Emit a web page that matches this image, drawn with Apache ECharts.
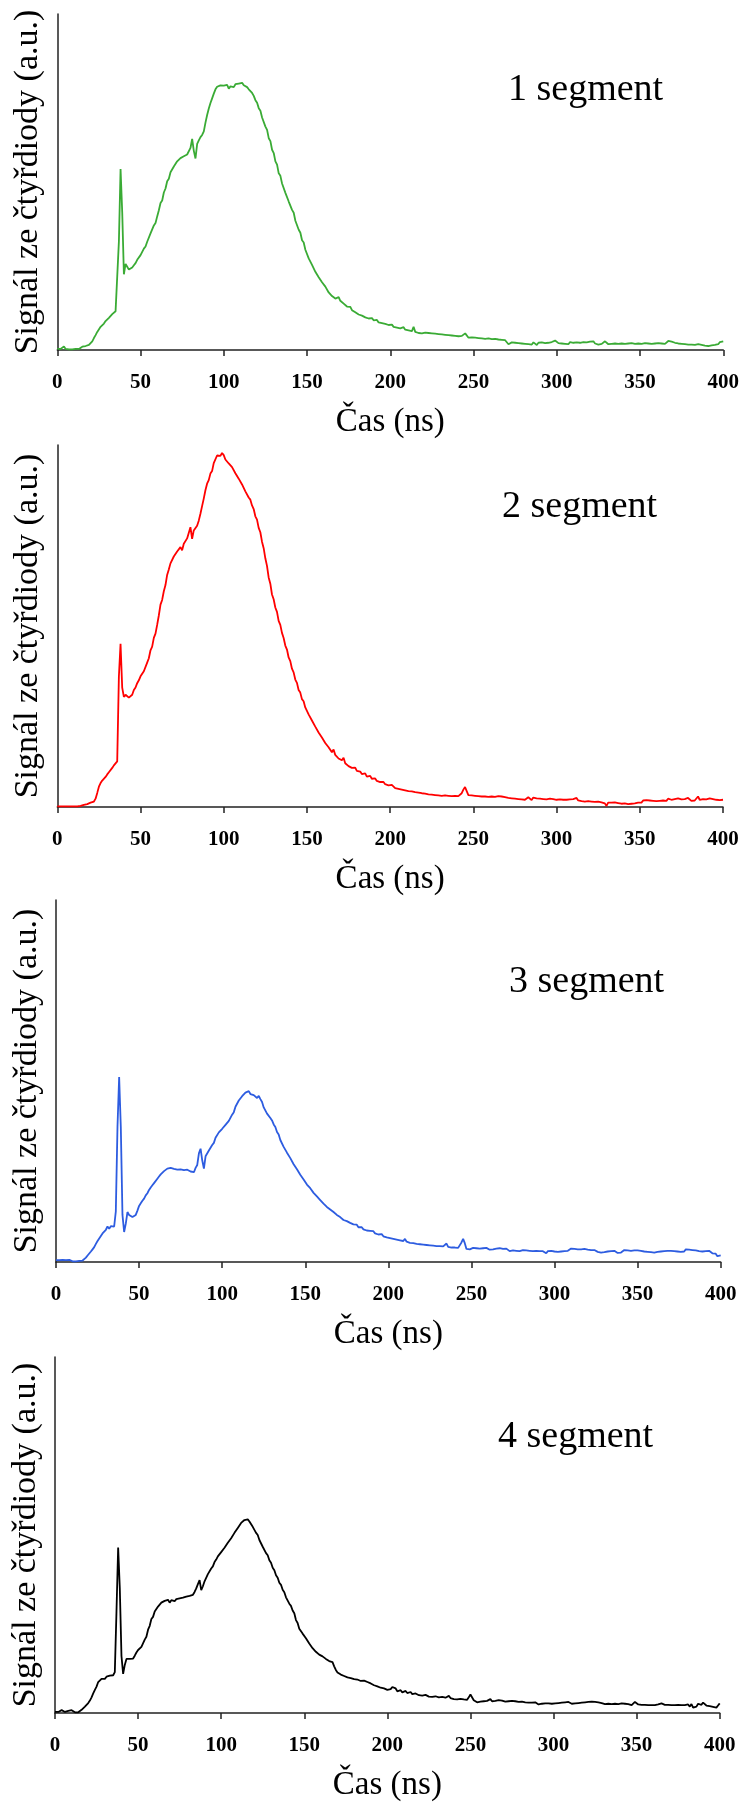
<!DOCTYPE html>
<html>
<head>
<meta charset="utf-8">
<script src="https://cdn.jsdelivr.net/npm/echarts@6/dist/echarts.min.js"></script>
<style>
  html, body { margin: 0; padding: 0; background: #ffffff; }
  #chart { width: 742px; height: 1803px; }
</style>
</head>
<body>
<div id="chart"></div>
<script>
// Photodiode signal of four segments, sampled every 1 ns from 0 to 400 ns (a.u.)
const timeStartNs = 0;
const timeStepNs = 1;

const segment1 = [
  0.3,0.2,0.3,0.2,1.0,0.3,0.2,0.2,0.3,0.2,
  0.2,0.3,0.2,0.3,0.3,0.9,0.4,1.1,0.7,1.4,
  1.9,2.4,3.3,4.1,5.0,5.5,6.4,6.9,7.3,8.0,
  8.3,8.9,9.4,9.9,10.4,10.7,11.2,30.0,50.0,38.0,
  20.9,23.8,23.0,22.2,21.9,22.8,23.4,24.0,24.9,25.4,
  26.2,26.7,28.0,28.6,29.9,30.4,32.2,32.5,34.4,35.1,
  36.9,38.6,40.6,41.3,43.5,44.6,46.6,47.3,49.1,49.6,
  50.7,51.2,52.1,52.4,53.0,52.6,53.5,53.1,54.0,54.3,
  55.8,58.3,55.0,52.9,56.9,57.9,58.8,59.4,60.4,62.8,
  64.9,66.7,68.2,69.5,70.8,72.0,72.7,72.4,73.1,72.7,
  73.0,72.5,73.2,72.2,72.8,73.1,72.6,73.4,73.0,73.6,
  73.2,73.8,73.1,72.9,72.6,72.0,71.5,71.0,70.2,69.0,
  68.3,66.8,66.1,64.2,63.7,61.7,60.8,58.5,57.7,55.3,
  54.4,52.1,51.2,48.8,48.1,46.0,45.6,43.4,42.9,41.0,
  40.6,38.7,37.9,35.7,35.2,33.2,32.4,30.3,29.7,27.7,
  27.2,25.3,24.9,23.5,23.0,21.6,21.5,20.1,20.1,18.7,
  18.7,17.5,17.2,15.9,16.1,14.9,15.2,14.2,14.3,14.6,
  13.6,13.2,12.8,12.5,12.0,11.6,11.9,11.0,10.7,10.4,
  10.3,9.8,10.1,9.5,9.3,9.0,9.3,8.7,8.4,8.8,
  8.2,7.9,8.3,7.6,7.9,7.4,7.6,7.2,7.4,6.9,
  6.7,7.0,6.4,6.6,6.2,6.5,6.0,5.9,6.3,5.6,
  5.9,5.4,5.7,5.2,6.4,5.0,5.1,4.7,5.0,4.6,
  4.6,4.8,4.4,4.7,4.3,4.6,4.2,4.5,4.1,4.4,
  4.0,4.3,3.9,4.2,3.9,4.1,3.7,4.0,3.6,3.9,
  3.6,3.8,3.5,3.9,4.3,4.6,4.1,3.4,3.2,3.5,
  3.1,3.4,3.0,3.3,2.9,3.2,2.8,3.1,2.7,3.2,
  2.8,3.0,2.6,3.1,2.7,2.9,2.5,2.8,2.4,2.7,
  2.3,1.6,1.2,2.1,2.4,2.0,2.3,1.9,2.2,1.8,
  2.1,1.7,2.2,1.6,2.0,1.5,2.1,1.8,1.4,2.0,
  1.7,2.1,1.6,1.9,1.5,2.0,1.7,2.2,1.8,2.6,
  2.3,1.9,2.3,1.8,2.2,1.7,2.1,1.6,2.2,2.6,
  2.0,1.7,2.1,1.6,2.0,1.8,2.2,1.7,2.1,1.6,
  2.3,1.9,2.4,1.8,2.2,1.5,2.0,1.7,2.1,2.4,
  1.9,1.6,2.0,1.7,2.1,1.8,2.0,1.7,2.0,1.8,
  2.1,1.7,2.0,1.8,2.2,1.9,2.0,1.7,2.1,1.8,
  2.0,1.7,2.1,1.9,2.2,1.8,2.1,1.7,2.0,1.8,
  2.1,1.9,2.2,1.8,2.0,1.7,2.1,2.5,2.8,2.3,
  2.6,2.0,2.2,1.8,2.1,1.7,2.0,1.6,1.9,1.5,
  1.8,1.5,1.9,1.4,1.8,1.6,1.9,1.4,1.7,1.2,
  1.5,1.1,1.6,1.3,1.7,1.4,1.9,1.6,2.2,2.5,
  2.4
];

const segment2 = [
  0.2,0.2,0.2,0.2,0.2,0.2,0.2,0.2,0.2,0.2,
  0.2,0.2,0.2,0.2,0.3,0.4,0.6,0.9,0.8,1.0,
  1.2,1.1,1.5,2.3,3.9,5.6,6.6,7.3,7.8,8.3,
  9.0,9.6,10.1,10.8,11.5,11.2,12.6,36.0,45.1,33.0,
  30.4,31.0,30.6,30.2,29.7,31.0,32.3,33.0,34.2,35.0,
  36.1,36.1,37.5,38.0,39.9,41.1,43.3,44.3,46.7,47.9,
  50.3,52.9,55.9,57.2,59.6,61.3,64.1,65.6,67.3,67.5,
  69.2,69.4,70.6,70.5,71.8,70.9,72.7,72.9,74.2,74.5,
  77.3,74.1,76.4,76.9,77.7,79.1,81.0,83.1,85.2,87.5,
  89.3,90.3,92.1,92.8,95.0,95.5,97.1,97.3,97.0,97.8,
  97.2,96.0,96.1,94.9,95.0,93.9,93.4,92.2,92.1,90.7,
  90.5,89.1,88.8,87.2,86.8,85.5,84.9,83.3,82.3,80.3,
  79.4,77.1,75.9,73.3,71.5,68.7,66.6,63.4,61.7,58.7,
  57.4,55.1,53.9,51.4,50.3,48.1,46.7,44.6,43.5,41.3,
  40.3,38.2,37.2,35.2,34.3,32.3,31.6,29.8,29.2,27.5,
  27.1,25.6,25.3,23.9,23.7,22.2,22.1,20.6,20.5,19.2,
  19.1,17.7,17.5,16.5,16.3,15.1,15.9,14.4,14.6,13.4,
  13.3,12.9,13.6,12.1,11.8,11.3,11.6,10.8,10.5,10.9,
  10.0,9.5,9.8,9.1,8.8,9.3,8.4,8.1,8.6,7.8,
  7.5,7.9,7.2,7.4,6.9,6.6,6.9,6.3,6.5,6.0,
  5.8,6.1,5.6,5.2,5.5,5.0,5.3,4.8,5.0,4.6,
  4.9,4.4,4.7,4.3,4.5,4.1,4.4,4.0,4.2,3.8,
  4.1,3.7,3.9,3.5,3.8,3.4,3.7,3.3,3.6,3.2,
  3.5,3.1,3.4,3.2,3.5,3.1,3.3,3.0,3.3,3.1,
  3.4,3.0,3.3,3.8,4.8,5.5,4.4,3.3,2.9,3.2,
  2.8,3.1,2.7,3.0,2.6,2.9,2.6,2.9,2.5,2.8,
  2.6,2.9,2.5,2.8,2.6,3.0,2.6,2.9,3.2,2.7,
  2.9,2.5,2.8,2.4,2.7,2.3,2.6,2.2,2.5,2.1,
  2.4,2.0,2.3,2.7,2.2,1.9,2.6,2.1,2.4,2.0,
  2.3,1.9,2.2,1.8,2.1,1.9,2.3,1.9,2.2,1.8,
  2.0,1.7,2.1,1.8,2.0,1.6,2.0,1.7,2.1,1.8,
  2.2,1.9,2.5,1.8,2.0,1.6,1.9,1.5,1.8,1.6,
  1.9,1.5,1.8,1.4,1.8,1.5,1.7,1.3,1.6,1.0,
  0.3,1.2,1.5,1.2,1.6,1.3,1.5,1.1,1.4,0.9,
  1.3,1.0,1.4,0.8,0.3,0.9,1.3,1.0,1.5,1.2,
  1.6,1.2,1.8,1.4,1.9,1.5,1.8,2.2,1.7,2.0,
  1.6,2.1,1.7,2.2,1.8,2.1,1.7,2.3,1.8,2.0,
  1.6,2.2,1.8,2.4,1.9,2.1,1.7,2.2,1.8,2.5,
  2.0,1.7,2.1,1.8,2.3,2.9,2.0,1.8,2.2,1.7,
  2.1,1.8,2.4,1.9,2.2,1.7,2.0,1.6,1.9,2.2,
  2.0
];

const segment3 = [
  0.5,0.2,0.5,0.2,0.6,0.2,0.5,0.2,0.6,0.3,
  0.2,0.5,0.2,0.2,0.3,0.6,0.4,0.9,1.2,1.8,
  2.3,2.9,3.5,4.1,5.0,5.8,6.3,7.2,7.9,8.3,
  8.9,9.8,9.2,9.9,9.4,9.8,14.0,37.3,51.1,37.3,
  13.0,8.3,10.6,13.8,13.0,12.6,12.4,12.2,13.0,14.2,
  15.5,16.2,16.9,17.5,18.4,19.0,19.9,20.6,21.2,21.8,
  22.3,23.0,23.6,24.2,24.7,25.1,25.4,25.8,26.3,26.0,
  26.2,25.7,25.9,25.5,25.9,25.6,25.8,25.4,25.9,25.5,
  25.7,25.0,24.5,24.8,26.0,26.8,30.0,31.3,28.1,25.8,
  29.2,29.4,30.8,31.1,32.3,32.9,34.3,34.7,35.8,35.9,
  36.8,36.8,37.9,38.1,39.0,39.2,40.7,41.4,42.9,43.4,
  44.6,44.9,45.8,46.0,46.8,46.8,47.2,46.4,46.9,46.1,
  46.3,45.3,45.9,45.0,44.2,42.7,42.4,41.0,40.7,39.8,
  39.1,38.0,37.3,35.9,35.2,33.7,33.5,31.8,31.4,30.2,
  29.8,28.7,28.2,27.0,26.8,25.6,25.2,24.1,23.9,22.8,
  22.6,21.4,21.4,20.4,20.2,19.1,19.1,18.1,18.0,17.1,
  16.8,16.1,15.8,15.2,14.9,14.5,14.0,13.8,13.3,13.0,
  12.6,12.4,12.0,11.6,11.9,11.3,11.0,10.8,11.2,10.4,
  10.0,10.3,9.6,9.2,9.6,9.0,9.3,8.7,9.1,8.6,
  8.2,8.5,7.9,8.1,7.6,7.4,7.7,7.1,7.4,6.8,
  7.1,6.6,6.9,6.4,6.8,6.2,6.5,6.0,6.3,5.8,
  6.4,5.6,5.9,5.3,5.6,5.2,5.5,5.0,5.3,4.9,
  5.2,4.8,5.1,4.7,5.0,4.6,4.9,4.5,4.8,4.4,
  4.7,4.4,4.8,4.3,4.6,5.1,4.2,4.5,4.0,4.4,
  4.0,4.3,3.9,4.4,5.4,6.4,5.2,3.6,3.2,3.5,
  3.6,3.9,3.5,3.8,3.4,3.7,3.3,3.8,3.5,3.9,
  3.6,3.4,3.8,3.5,3.2,3.7,3.4,3.8,3.3,3.6,
  3.3,3.7,3.4,3.0,3.5,3.2,3.6,3.1,3.4,3.0,
  2.9,3.3,2.8,3.2,2.7,3.1,2.6,3.0,2.7,3.1,
  2.7,3.0,2.6,3.0,2.7,2.4,3.0,2.7,3.1,2.8,
  2.9,3.2,2.8,3.2,2.9,3.3,3.0,3.4,3.1,3.6,
  3.7,3.3,3.6,3.2,3.5,3.1,3.5,3.2,3.6,3.2,
  3.4,3.0,3.3,2.9,3.3,3.0,2.8,3.1,2.6,3.0,
  2.7,2.4,2.9,2.6,3.0,2.7,3.1,2.7,2.5,2.9,
  2.6,3.0,3.3,2.9,3.2,2.8,3.1,2.8,3.2,2.9,
  3.2,2.8,3.1,2.7,2.9,2.5,2.8,2.4,2.7,2.3,
  2.6,2.4,2.8,2.5,2.9,2.6,3.0,2.7,3.1,2.8,
  3.1,2.7,3.0,2.6,2.9,3.2,2.8,3.3,2.9,3.5,
  3.1,3.4,3.0,3.3,2.9,3.2,2.7,3.0,2.6,2.9,
  3.3,3.0,3.4,3.1,2.9,2.4,2.0,2.3,1.6,1.3,
  1.8
];

const segment4 = [
  0.3,0.8,0.3,0.2,0.8,0.3,0.3,0.2,0.6,0.2,
  0.8,0.3,0.2,0.3,0.2,0.7,0.9,1.4,1.8,2.3,
  2.8,3.5,4.4,5.5,6.5,7.4,8.7,9.2,9.6,9.9,
  9.6,10.2,9.9,10.5,10.2,10.6,11.5,28.5,46.5,35.0,
  16.0,11.0,13.5,15.2,15.7,15.2,14.7,15.3,16.1,17.0,
  17.7,17.7,18.6,19.1,20.6,21.4,23.4,24.5,26.4,27.0,
  28.5,28.8,29.9,30.1,31.0,30.8,31.5,31.1,31.8,31.0,
  31.7,31.8,31.4,32.0,31.8,32.2,31.9,32.4,32.2,32.7,
  32.5,32.9,33.1,33.2,34.0,35.0,36.2,37.3,34.5,35.6,
  37.0,37.5,39.0,39.4,40.6,41.2,42.4,43.1,44.0,44.2,
  45.2,45.4,46.4,46.7,47.8,48.1,49.1,49.4,50.6,50.9,
  52.0,52.3,53.4,53.4,54.2,54.0,54.4,53.8,53.5,52.3,
  51.9,50.6,50.0,48.6,48.1,46.7,46.2,44.9,44.3,42.9,
  42.2,40.8,40.1,38.7,38.0,36.6,36.0,34.6,33.9,32.5,
  32.0,30.7,30.1,28.8,28.0,26.1,25.3,23.7,23.4,22.3,
  22.0,21.0,20.6,19.5,19.3,18.2,18.2,17.2,17.2,16.4,
  16.2,15.9,15.5,15.2,14.9,14.6,14.4,14.3,13.1,12.1,
  11.4,11.0,10.8,10.5,10.4,10.2,10.0,9.9,9.8,9.6,
  9.5,9.3,9.4,9.2,9.0,8.9,9.1,8.8,8.7,8.6,
  8.3,8.0,7.8,7.6,7.5,7.4,7.1,7.0,6.9,6.7,
  6.5,6.4,6.7,7.3,7.8,6.9,6.1,6.0,6.4,5.8,
  5.7,6.2,5.6,5.5,5.9,5.3,5.2,5.5,5.1,5.0,
  5.3,4.9,4.8,5.1,4.7,4.6,4.9,4.5,4.4,4.7,
  4.3,4.4,4.2,4.5,4.1,4.3,4.0,4.8,4.2,3.9,
  3.9,4.2,3.8,3.7,4.0,3.6,3.8,3.5,3.7,4.4,
  5.2,4.8,3.6,3.2,3.0,2.9,3.2,2.8,3.3,3.0,
  3.4,3.6,3.9,3.3,3.0,3.4,3.2,3.6,3.3,3.5,
  3.4,3.2,3.5,3.3,3.6,3.4,3.1,3.3,2.9,3.1,
  2.8,3.2,2.7,3.0,2.6,2.9,2.5,2.9,2.6,3.0,
  2.7,2.4,2.9,2.6,3.0,2.7,3.1,2.7,3.0,2.6,
  2.9,2.7,3.1,2.8,2.5,2.9,2.6,3.0,2.7,3.1,
  2.8,2.6,3.0,2.7,3.2,2.8,3.1,2.9,3.3,3.0,
  3.4,3.1,2.8,3.2,2.9,3.1,2.7,3.0,2.6,2.8,
  2.7,2.5,2.9,2.6,2.8,2.5,2.8,2.6,2.9,2.5,
  2.5,2.7,2.4,2.6,2.3,2.5,2.3,2.2,2.3,3.1,
  3.5,2.4,2.3,2.3,2.2,2.3,2.3,2.2,2.3,2.2,
  2.3,2.2,2.3,2.4,2.2,2.7,2.2,2.3,2.2,2.3,
  2.6,2.2,2.3,2.2,2.2,2.3,2.2,2.2,2.3,2.2,
  2.1,2.4,1.8,2.5,1.5,1.1,1.8,2.6,3.0,2.3,
  2.9,2.4,2.1,2.6,1.9,2.2,1.7,2.0,1.5,2.1,
  2.7
];

const segmentSeries = [segment1, segment2, segment3, segment4];
const segmentNames = ['1 segment', '2 segment', '3 segment', '4 segment'];
const segmentColors = ['#3aab35', '#ff0000', '#2d5ce0', '#000000'];

const xAxisMin = 0;
const xAxisMax = 400;
const xTickStep = 50;
const xAxisTitle = 'Čas (ns)';
const yAxisTitle = 'Signál ze čtyřdiody (a.u.)';

// Panel layout (pixels) and the upper end of each signal axis
const panelLayout = [
  { top: 14,   height: 336, left: 57.3, right: 18.7, yMax: 92.8, labelLeft: 508, labelTop: 71 },
  { top: 445,  height: 362, left: 57.3, right: 19.0, yMax: 100,  labelLeft: 502, labelTop: 488 },
  { top: 900,  height: 362, left: 56.0, right: 21.3, yMax: 100,  labelLeft: 509, labelTop: 963 },
  { top: 1357, height: 363, left: 55.0, right: 22.3, yMax: 100,  labelLeft: 498, labelTop: 1418 }
];

const serif = '"Liberation Serif", "Times New Roman", serif';

function toPairs(values) {
  return values.map((v, i) => [timeStartNs + i * timeStepNs, v]);
}

const chart = echarts.init(document.getElementById('chart'), null, { renderer: 'canvas' });

const option = {
  backgroundColor: '#ffffff',
  animation: false,
  grid: panelLayout.map(p => ({
    top: p.top, height: p.height, left: p.left, right: p.right, containLabel: false
  })),
  xAxis: panelLayout.map((p, k) => ({
    gridIndex: k,
    type: 'value',
    min: xAxisMin,
    max: xAxisMax,
    interval: xTickStep,
    name: xAxisTitle,
    nameLocation: 'middle',
    nameGap: 56,
    nameTextStyle: { fontFamily: serif, fontSize: 33, color: '#000' },
    axisLine: { show: true, onZero: false, lineStyle: { color: '#222', width: 1.5 } },
    axisTick: { show: true, inside: false, length: 6, lineStyle: { color: '#222', width: 1.5 } },
    axisLabel: {
      show: true, margin: 22, fontFamily: serif, fontSize: 21,
      fontWeight: 'bold', color: '#000', showMinLabel: true, showMaxLabel: true
    },
    splitLine: { show: false }
  })),
  yAxis: panelLayout.map((p, k) => ({
    gridIndex: k,
    type: 'value',
    min: 0,
    max: p.yMax,
    name: yAxisTitle,
    nameLocation: 'middle',
    nameRotate: 90,
    nameGap: 12,
    nameTextStyle: { fontFamily: serif, fontSize: 34, color: '#000' },
    axisLine: { show: true, onZero: false, lineStyle: { color: '#222', width: 1.5 } },
    axisTick: { show: false },
    axisLabel: { show: false },
    splitLine: { show: false }
  })),
  series: segmentSeries.map((values, k) => ({
    type: 'line',
    name: segmentNames[k],
    xAxisIndex: k,
    yAxisIndex: k,
    data: toPairs(values),
    showSymbol: false,
    symbol: 'none',
    sampling: null,
    smooth: false,
    clip: true,
    lineStyle: { color: segmentColors[k], width: 1.8 },
    itemStyle: { color: segmentColors[k] }
  })),
  graphic: panelLayout.map((p, k) => ({
    type: 'text',
    left: p.labelLeft,
    top: p.labelTop,
    style: {
      text: segmentNames[k],
      fontFamily: serif,
      fontSize: 38,
      fill: '#000'
    }
  }))
};

chart.setOption(option);
</script>
</body>
</html>
